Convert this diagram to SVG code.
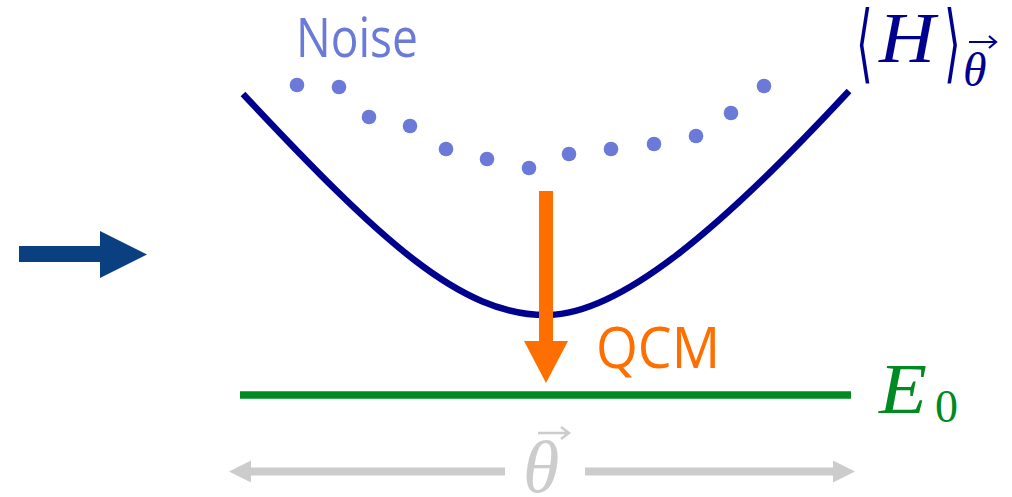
<svg xmlns="http://www.w3.org/2000/svg" width="1012" height="497" viewBox="0 0 1012 497">
<style>
.sans{font-family:"Open Sans","Liberation Sans",sans-serif}
.math{font-family:"Liberation Serif","DejaVu Serif",serif}
.brk{font-family:"DejaVu Sans","Noto Sans",sans-serif}
.it{font-style:italic}
.dot{fill:#6b7ad9}
</style>
<rect width="1012" height="497" fill="#ffffff"/>
<g id="input-arrow">
<polygon points="19,246 100,246 100,231 147,254.5 100,278 100,262 19,262" fill="#0b4080"/>
</g>
<g id="noise">
<text class="sans" x="296" y="57" font-size="54" fill="#6b7ad9" textLength="122" lengthAdjust="spacingAndGlyphs">Noise</text>
<circle class="dot" cx="297" cy="85" r="7.3"/>
<circle class="dot" cx="339" cy="87" r="7.3"/>
<circle class="dot" cx="369" cy="117" r="7.3"/>
<circle class="dot" cx="410" cy="126" r="7.3"/>
<circle class="dot" cx="446" cy="149" r="7.3"/>
<circle class="dot" cx="487" cy="159" r="7.3"/>
<circle class="dot" cx="529" cy="168" r="7.3"/>
<circle class="dot" cx="569" cy="154" r="7.3"/>
<circle class="dot" cx="611" cy="149" r="7.3"/>
<circle class="dot" cx="654" cy="144" r="7.3"/>
<circle class="dot" cx="696" cy="136" r="7.3"/>
<circle class="dot" cx="731" cy="113" r="7.3"/>
<circle class="dot" cx="764" cy="86" r="7.3"/>
</g>
<g id="energy-curve">
<path d="M243,94 C380,240 460,316 548,315 C620,314 720,230 849,91" fill="none" stroke="#00008f" stroke-width="6.5"/>
<text class="brk" transform="translate(856,72) scale(0.5,1)" font-size="86" fill="#00008f">⟨</text>
<text class="math it" x="879" y="62" font-size="71" fill="#00008f" textLength="56" lengthAdjust="spacingAndGlyphs">H</text>
<text class="brk" transform="translate(944,72) scale(0.5,1)" font-size="86" fill="#00008f">⟩</text>
<text class="math it" x="963" y="86" font-size="48" fill="#00008f">θ</text>
<path d="M969,42 H995 M989,36 L996,42 L989,48" fill="none" stroke="#00008f" stroke-width="2.2"/>
</g>
<g id="ground-state">
<line x1="240" y1="395" x2="851" y2="395" stroke="#008a22" stroke-width="7.5"/>
<text class="math it" x="879" y="413" font-size="71" fill="#008a22" textLength="48" lengthAdjust="spacingAndGlyphs">E</text>
<text class="math" x="935" y="422" font-size="46" fill="#008a22">0</text>
</g>
<g id="connectors">
<g id="qcm-arrow">
<polygon points="539,191 553,191 553,341 568,341 546,383 524,341 539,341" fill="#ff6f00"/>
<text class="sans" x="596" y="368" font-size="56" fill="#ff6f00" textLength="124" lengthAdjust="spacingAndGlyphs">QCM</text>
</g>
<g id="theta-axis" fill="#cccccc">
<polygon points="229,471.5 251,460.5 251,467.5 505,467.5 505,475.5 251,475.5 251,482.5"/>
<polygon points="855,471.5 833,460.5 833,467.5 585,467.5 585,475.5 833,475.5 833,482.5"/>
<text class="math it" x="523" y="492" font-size="74" fill="#cccccc">θ</text>
<path d="M538,433 H568 M561,427 L569,433 L561,439" fill="none" stroke="#cccccc" stroke-width="2.4"/>
</g>
</g>
</svg>
